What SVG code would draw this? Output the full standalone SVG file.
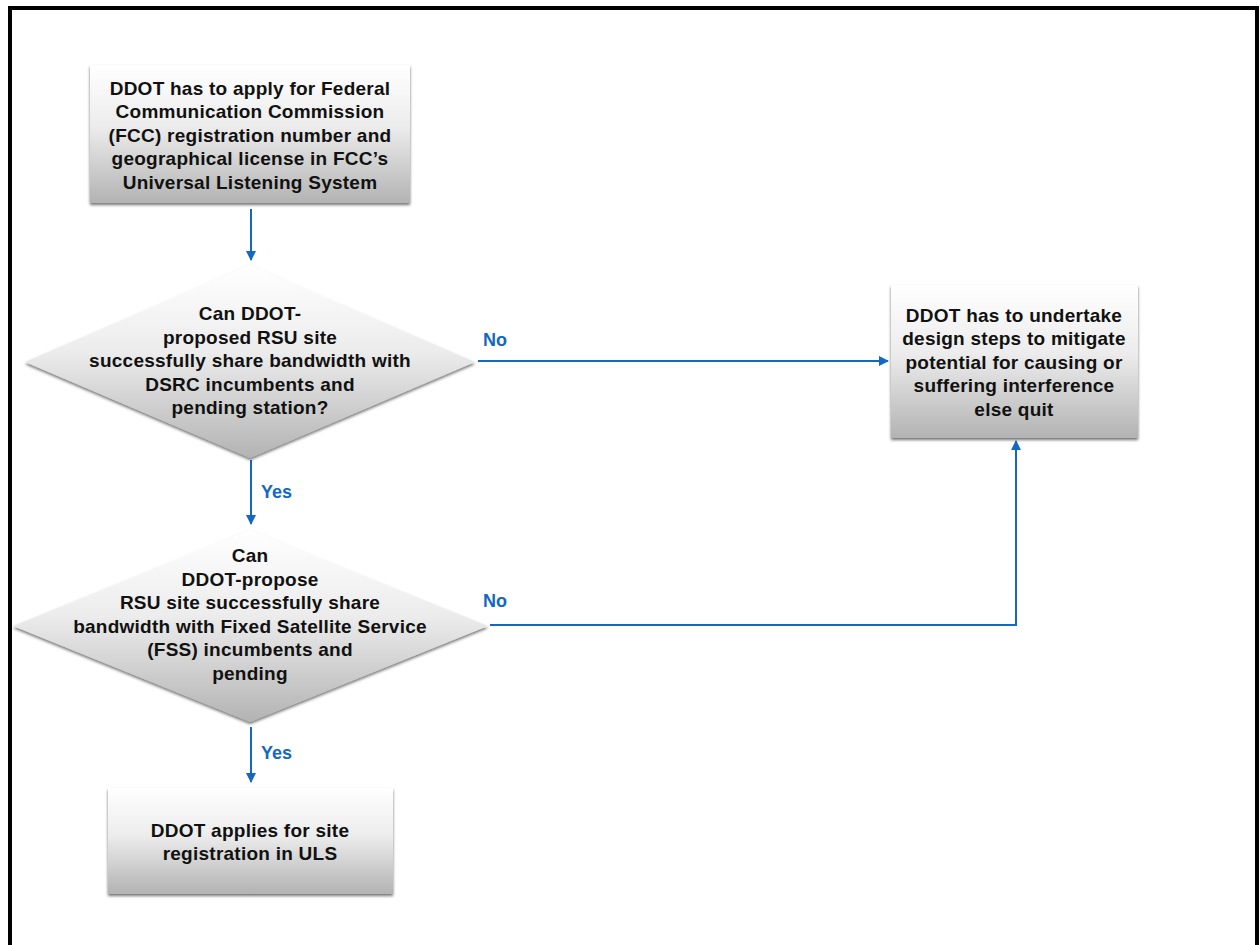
<svg xmlns="http://www.w3.org/2000/svg" width="1260" height="945" viewBox="0 0 1260 945">
<defs>
<linearGradient id="gbox" x1="0" y1="0" x2="0" y2="1">
<stop offset="0" stop-color="#ffffff"/>
<stop offset="0.45" stop-color="#ececec"/>
<stop offset="1" stop-color="#b3b3b3"/>
</linearGradient>
<filter id="shadow" x="-10%" y="-10%" width="120%" height="130%">
<feDropShadow dx="0" dy="2" stdDeviation="1.5" flood-color="#000" flood-opacity="0.55"/>
</filter>
<marker id="arrow" viewBox="0 0 10 10" refX="9" refY="5" markerWidth="10" markerHeight="10" markerUnits="userSpaceOnUse" orient="auto">
<path d="M0,0 L10,5 L0,10 Z" fill="#1468c2"/>
</marker>
<style>
.node { fill: url(#gbox); filter: url(#shadow); }
.t { font-family: "Liberation Sans", Arial, sans-serif; font-weight: bold; font-size: 19px; letter-spacing: 0.25px; fill: #111; text-anchor: middle; dominant-baseline: central; }
.lbl { font-family: "Liberation Sans", Arial, sans-serif; font-weight: bold; font-size: 18px; fill: #1468c2; dominant-baseline: central; }
.conn { stroke: #1468c2; stroke-width: 2; fill: none; marker-end: url(#arrow); }
</style>
</defs>
<rect x="0" y="0" width="1260" height="945" fill="#ffffff"/>
<rect x="10" y="8" width="1247" height="960" fill="none" stroke="#000" stroke-width="4"/>

<g id="connectors">
<line class="conn" x1="251" y1="209" x2="251" y2="260"/>
<line class="conn" x1="251" y1="460" x2="251" y2="524"/>
<line class="conn" x1="251" y1="727" x2="251" y2="782"/>
<line class="conn" x1="478" y1="361" x2="888" y2="361"/>
<polyline class="conn" points="490,625 1016,625 1016,441"/>
<text class="lbl" x="483" y="340">No</text>
<text class="lbl" x="483" y="601">No</text>
<text class="lbl" x="261" y="492">Yes</text>
<text class="lbl" x="261" y="753">Yes</text>
</g>

<g id="n1">
<rect class="node" x="90" y="65" width="320" height="138"/>
<text class="t" x="250" y="88">DDOT has to apply for Federal</text>
<text class="t" x="250" y="111.5">Communication Commission</text>
<text class="t" x="250" y="135">(FCC) registration number and</text>
<text class="t" x="250" y="158.5">geographical license in FCC’s</text>
<text class="t" x="250" y="182">Universal Listening System</text>
</g>

<g id="d1">
<polygon class="node" points="250,265 475,362 250,458 25,362"/>
<text class="t" x="250" y="313">Can DDOT-</text>
<text class="t" x="250" y="337">proposed RSU site</text>
<text class="t" x="250" y="360">successfully share bandwidth with</text>
<text class="t" x="250" y="384">DSRC incumbents and</text>
<text class="t" x="250" y="407">pending station?</text>
</g>

<g id="d2">
<polygon class="node" points="250,530 488,626 250,722 13,626"/>
<text class="t" x="250" y="555">Can</text>
<text class="t" x="250" y="579">DDOT-propose</text>
<text class="t" x="250" y="602">RSU site successfully share</text>
<text class="t" x="250" y="626">bandwidth with Fixed Satellite Service</text>
<text class="t" x="250" y="649">(FSS) incumbents and</text>
<text class="t" x="250" y="673">pending</text>
</g>

<g id="n2">
<rect class="node" x="891" y="285" width="247" height="153"/>
<text class="t" x="1014" y="315">DDOT has to undertake</text>
<text class="t" x="1014" y="338.5">design steps to mitigate</text>
<text class="t" x="1014" y="362">potential for causing or</text>
<text class="t" x="1014" y="385.5">suffering interference</text>
<text class="t" x="1014" y="409">else quit</text>
</g>

<g id="n3">
<rect class="node" x="108" y="788" width="285" height="106"/>
<text class="t" x="250" y="830">DDOT applies for site</text>
<text class="t" x="250" y="853">registration in ULS</text>
</g>
</svg>
